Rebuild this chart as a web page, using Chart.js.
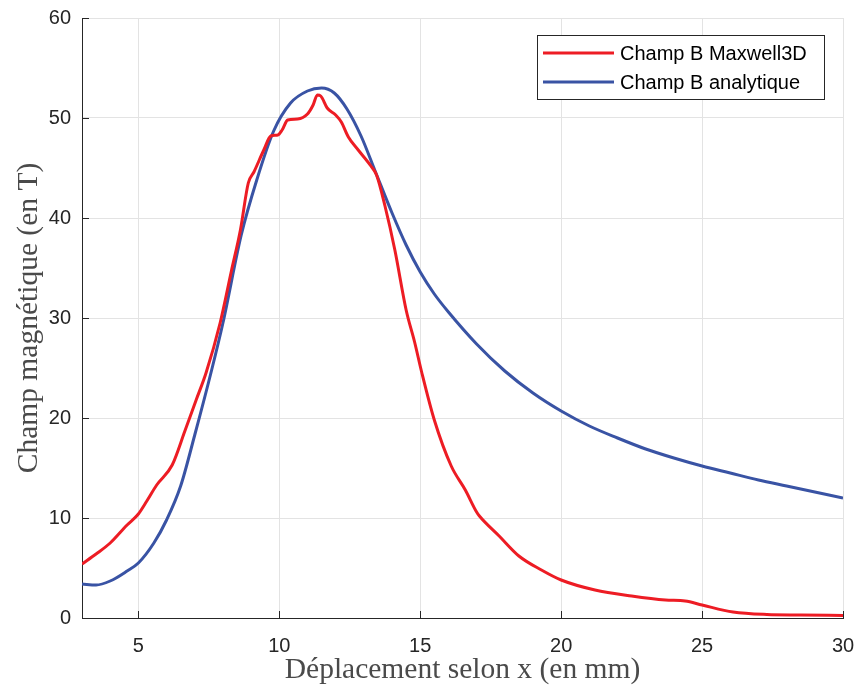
<!DOCTYPE html>
<html>
<head>
<meta charset="utf-8">
<script src="https://cdn.jsdelivr.net/npm/chart.js@4/dist/chart.umd.min.js"></script>
<style>
  body { margin: 0; background: #fff; }
  #wrap { width: 860px; height: 689px; position: relative; }
</style>
</head>
<body>
<div id="wrap"><canvas id="fieldChart"></canvas></div>
<script>
// Champ B Maxwell3D (simulation)
const maxwellX = [3.0, 3.5, 4.0, 4.6, 5.0, 5.3, 5.65, 6.2, 6.65, 7.05, 7.4, 7.9, 8.3, 8.62, 8.9, 9.1, 9.45, 9.7, 9.95, 10.1, 10.3, 10.65, 11.0, 11.2, 11.35, 11.47, 11.7, 12.0, 12.2, 12.45, 12.8, 13.25, 13.45, 13.75, 14.1, 14.5, 14.8, 15.05, 15.5, 16.1, 16.6, 17.0, 17.1, 17.8, 18.5, 19.3, 20.0, 21.2, 22.5, 23.7, 24.4, 25.0, 26.1, 27.3, 28.5, 30.0];
const maxwellB = [5.4, 6.4, 7.5, 9.3, 10.4, 11.7, 13.3, 15.3, 18.7, 21.8, 24.5, 29.5, 34.7, 38.8, 43.5, 44.6, 46.8, 48.2, 48.3, 48.8, 49.8, 49.9, 50.4, 51.3, 52.3, 52.2, 51.0, 50.3, 49.6, 48.1, 46.8, 45.2, 44.3, 41.2, 36.8, 30.8, 27.6, 24.6, 19.8, 15.2, 12.8, 10.6, 10.2, 8.2, 6.2, 4.8, 3.8, 2.8, 2.2, 1.8, 1.7, 1.3, 0.6, 0.35, 0.3, 0.25];

// Champ B analytique
const analytiqueX = [3.0, 3.5, 4.0, 4.6, 5.0, 5.55, 6.0, 6.5, 7.0, 7.6, 8.0, 8.65, 9.2, 9.8, 10.4, 11.0, 11.5, 11.95, 12.4, 12.9, 13.4, 14.0, 14.5, 15.0, 15.5, 16.0, 17.0, 18.0, 19.0, 20.0, 21.0, 22.0, 23.0, 24.0, 25.0, 26.0, 27.0, 28.0, 29.0, 30.0];
const analytiqueB = [3.4, 3.3, 3.7, 4.7, 5.5, 7.5, 9.8, 13.2, 18.3, 24.8, 29.5, 38.3, 43.8, 48.7, 51.5, 52.7, 53.0, 52.5, 50.9, 48.2, 44.7, 40.5, 37.3, 34.6, 32.4, 30.6, 27.4, 24.7, 22.5, 20.7, 19.2, 18.0, 16.9, 16.0, 15.2, 14.5, 13.8, 13.2, 12.6, 12.0];

const xTicks = [5, 10, 15, 20, 25, 30];
const yTicks = [0, 10, 20, 30, 40, 50, 60];

const toPoints = (xs, ys) => xs.map((x, i) => ({ x: x, y: ys[i] }));

// MATLAB style legend box in the top right corner
const legendBox = {
    id: 'legendBox',
    afterDatasetsDraw(chart) {
        const { ctx, chartArea } = chart;
        const x1 = chartArea.right - 306;
        const y1 = chartArea.top + 17;
        ctx.save();
        ctx.fillStyle = '#fff';
        ctx.fillRect(x1, y1, 287, 64);
        ctx.strokeStyle = '#262626';
        ctx.lineWidth = 1;
        ctx.strokeRect(x1 + 0.5, y1 + 0.5, 287, 64);
        ctx.font = '20px "Liberation Sans", Arial, sans-serif';
        ctx.textBaseline = 'middle';
        chart.data.datasets.forEach((ds, i) => {
            const y = y1 + 18 + i * 29;
            ctx.strokeStyle = ds.borderColor;
            ctx.lineWidth = 3;
            ctx.beginPath();
            ctx.moveTo(x1 + 6, y);
            ctx.lineTo(x1 + 77, y);
            ctx.stroke();
            ctx.fillStyle = '#000';
            ctx.fillText(ds.label, x1 + 83, y + 1);
        });
        ctx.restore();
    }
};

// short tick marks pointing inside the axes
const innerTicks = {
    id: 'innerTicks',
    afterDatasetsDraw(chart) {
        const { ctx, chartArea, scales } = chart;
        ctx.save();
        ctx.strokeStyle = '#262626';
        ctx.lineWidth = 1;
        ctx.beginPath();
        xTicks.forEach(v => {
            const px = Math.round(scales.x.getPixelForValue(v)) + 0.5;
            ctx.moveTo(px, chartArea.bottom);
            ctx.lineTo(px, chartArea.bottom - 7);
        });
        yTicks.forEach(v => {
            const py = Math.round(scales.y.getPixelForValue(v)) + 0.5;
            ctx.moveTo(chartArea.left, py);
            ctx.lineTo(chartArea.left + 7, py);
        });
        ctx.stroke();
        ctx.restore();
    }
};

new Chart(document.getElementById('fieldChart'), {
    type: 'line',
    data: {
        datasets: [{
            label: 'Champ B Maxwell3D',
            data: toPoints(maxwellX, maxwellB),
            borderColor: '#ed1c24',
            borderWidth: 3,
            pointRadius: 0,
            cubicInterpolationMode: 'monotone',
            fill: false
        }, {
            label: 'Champ B analytique',
            data: toPoints(analytiqueX, analytiqueB),
            borderColor: '#3953a4',
            borderWidth: 3,
            pointRadius: 0,
            cubicInterpolationMode: 'monotone',
            fill: false
        }]
    },
    options: {
        responsive: true,
        maintainAspectRatio: false,
        animation: false,
        layout: { padding: { left: 0, top: 18, right: 17, bottom: 0 } },
        plugins: {
            legend: { display: false },
            tooltip: { enabled: false }
        },
        scales: {
            x: {
                type: 'linear',
                min: 3,
                max: 30,
                afterBuildTicks: scale => { scale.ticks = xTicks.map(v => ({ value: v })); },
                afterFit: scale => {
                    scale.height = 71;
                    scale.paddingLeft = 0;
                    scale.paddingRight = 0;
                },
                grid: { color: '#e3e3e3', drawTicks: false },
                border: { display: true, color: '#262626', width: 1 },
                ticks: {
                    padding: 16,
                    color: '#262626',
                    font: { family: '"Liberation Sans", Arial, sans-serif', size: 20 },
                    maxRotation: 0
                },
                title: {
                    display: true,
                    text: 'Déplacement selon x (en mm)',
                    color: '#4a4a4a',
                    font: { family: '"Liberation Serif", "Times New Roman", serif', size: 29.5 },
                    padding: { top: 0, bottom: 1 }
                }
            },
            y: {
                min: 0,
                max: 60,
                afterBuildTicks: scale => { scale.ticks = yTicks.map(v => ({ value: v })); },
                afterFit: scale => {
                    scale.width = 82;
                    scale.paddingTop = 0;
                    scale.paddingBottom = 0;
                },
                grid: { color: '#e3e3e3', drawTicks: false },
                border: { display: true, color: '#262626', width: 1 },
                ticks: {
                    padding: 11,
                    color: '#262626',
                    font: { family: '"Liberation Sans", Arial, sans-serif', size: 20 }
                },
                title: {
                    display: true,
                    text: 'Champ magnétique (en T)',
                    color: '#4a4a4a',
                    font: { family: '"Liberation Serif", "Times New Roman", serif', size: 29.5 },
                    padding: { top: 12, bottom: 0 }
                }
            }
        }
    },
    plugins: [innerTicks, legendBox]
});
</script>
</body>
</html>
